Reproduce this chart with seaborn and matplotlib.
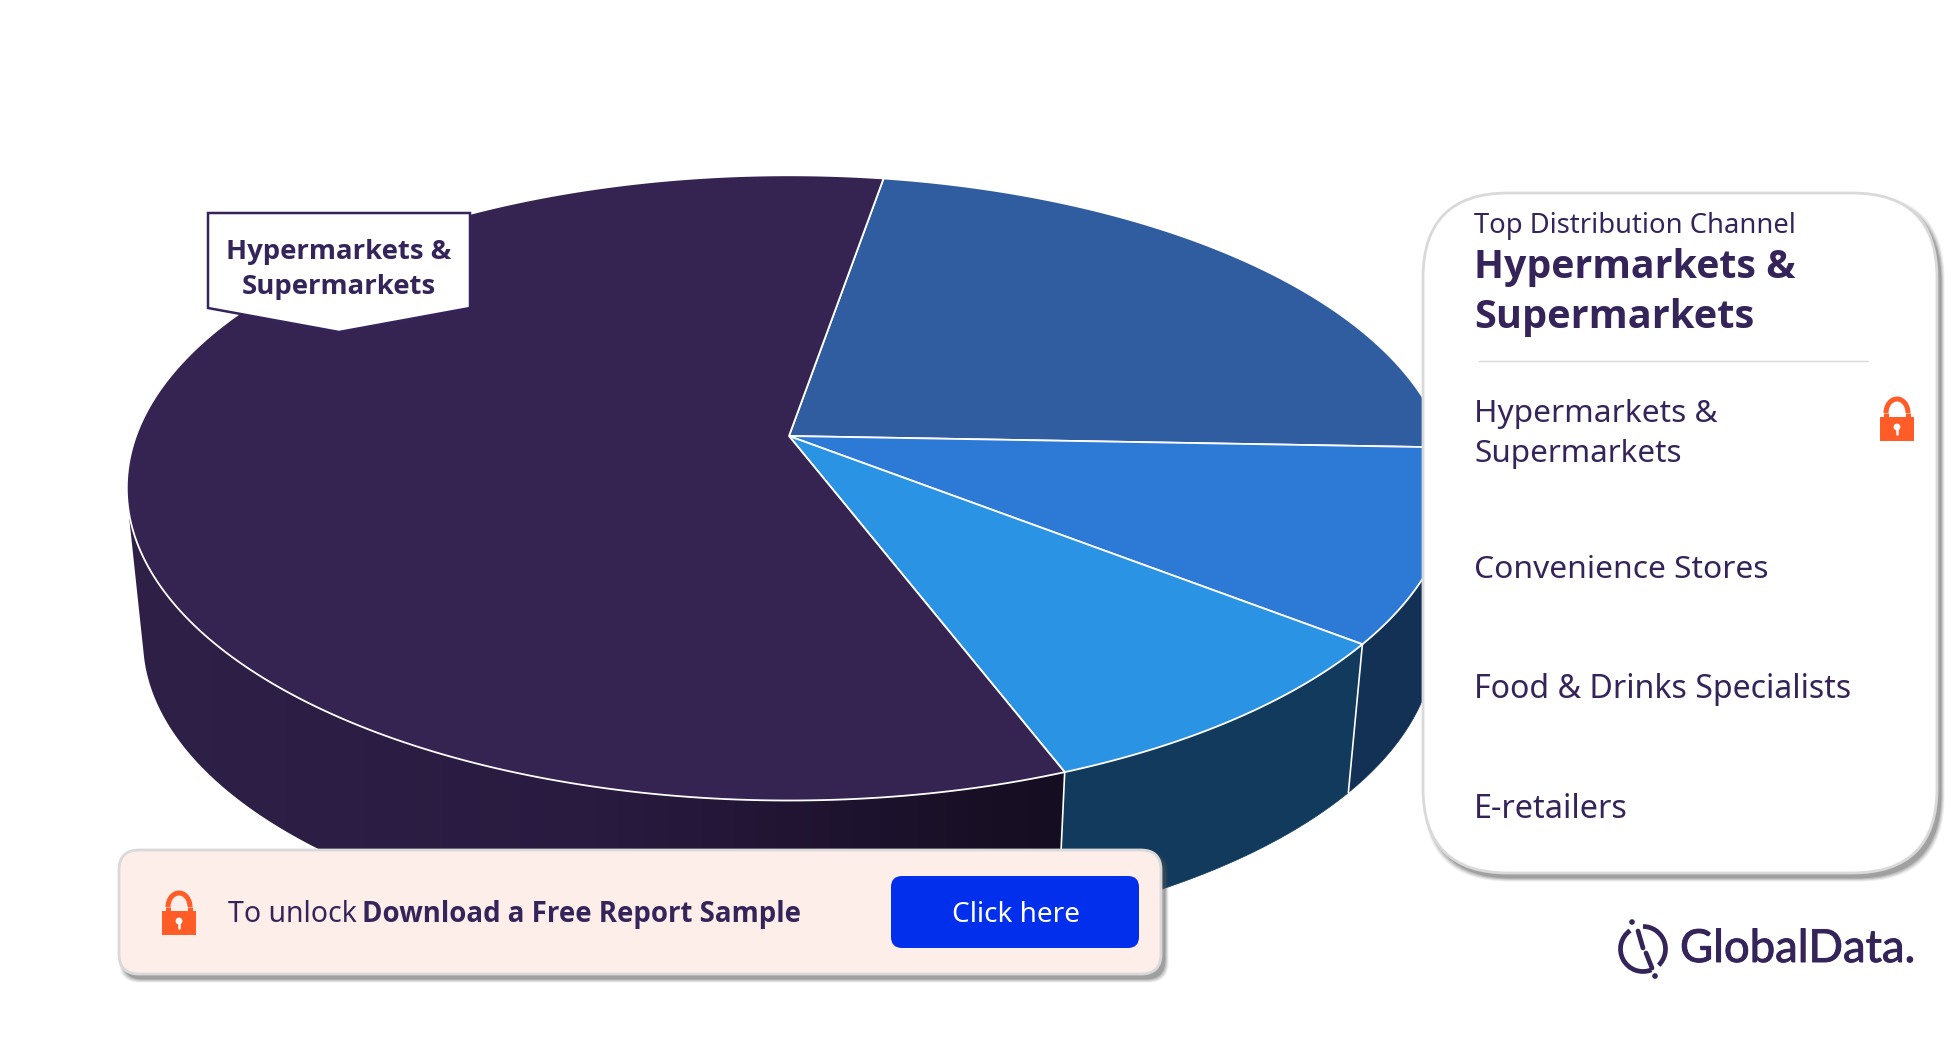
import numpy as np
import matplotlib
matplotlib.use("Agg")
import matplotlib.pyplot as plt
import matplotlib.font_manager as fm
import matplotlib.patheffects as pe
from matplotlib.patches import FancyBboxPatch, Polygon, Arc, Rectangle, Circle
import seaborn as sns

# ---- data ----
channels = ["Convenience Stores", "Food & Drinks Specialists", "E-retailers", "Hypermarkets & Supermarkets"]
shares = [22.9, 9.95, 8.65, 58.5]          # clockwise, starting at the upper boundary
top_colors = ["#2f5da0", "#2d7ad6", "#2b93e4", "#352352"]
wall_colors = ["#123155", "#123155", "#113a5c", None]
dark_wall_ramp = ["#2f2048", "#291a40", "#150d20"]
INK = "#35245a"
LOCK = "#ff5c28"
FONT = "Noto Sans"


def has_bold(name):
    return any(f.name == name and (f.weight == "bold" or f.weight == 700) for f in fm.fontManager.ttflist)


BOLD_FONT = next((n for n in ["Noto Sans", "Open Sans", "Roboto", "Inter", "Lato", "Liberation Sans"] if has_bold(n)),
                 "DejaVu Sans")

sns.set_theme(style="white")
plt.rcParams["font.family"] = [FONT, "DejaVu Sans"]

W, H = 1951, 1044
fig = plt.figure(figsize=(W / 100, H / 100), dpi=100, facecolor="white")
ax = fig.add_axes([0, 0, 1, 1])

# ---- perspective pie: projection of a unit disc ----
AX, AY = 789, 436      # apex
RX, RY, K = 653, 304, 0.166
VPY = 6700
SCALE = 0.9755
START = -80.3
WALL_FROM, WALL_TO = -9, 168


def rim(t_deg):
    t = np.radians(t_deg)
    w = 1 - K * np.sin(t)
    return AX + RX * np.cos(t) / w, AY + RY * np.sin(t) / w


def lower(x, y):
    return AX + (x - AX) * SCALE, VPY - (VPY - y) * SCALE


angles = START + np.concatenate([[0], np.cumsum(shares)]) * 3.6
wall_cmap = sns.blend_palette(dark_wall_ramp, as_cmap=True)

# walls
for i in range(len(shares)):
    a0, a1 = angles[i], angles[i + 1]
    lo, hi = max(a0, WALL_FROM), min(a1, WALL_TO)
    if hi <= lo:
        continue
    ts = np.linspace(lo, hi, 200)
    xs, ys = rim(ts)
    xl, yl = lower(xs, ys)
    pts = np.column_stack([np.r_[xs, xl[::-1]], np.r_[ys, yl[::-1]]])
    if wall_colors[i] is None:
        poly = Polygon(pts, closed=True, fc="none", ec="none", transform=ax.transData)
        ax.add_patch(poly)
        im = ax.imshow(np.linspace(0, 1, 256)[None, :], cmap=wall_cmap, aspect="auto",
                       extent=[127, 1066, 1000, 300], zorder=2, interpolation="bilinear")
        im.set_clip_path(poly)
    else:
        ax.add_patch(Polygon(pts, closed=True, fc=wall_colors[i], ec=wall_colors[i], lw=0.5, zorder=2))
    if WALL_FROM < a0 < WALL_TO:
        x0, y0 = rim(a0)
        x3, y3 = lower(x0, y0)
        ax.plot([x0, x3], [y0, y3], color="white", lw=1.2, zorder=3)

ax.set_xlim(0, W)
ax.set_ylim(H, 0)
ax.axis("off")

# top faces
for i in range(len(shares)):
    ts = np.linspace(angles[i], angles[i + 1], 240)
    xs, ys = rim(ts)
    pts = np.column_stack([np.r_[AX, xs], np.r_[AY, ys]])
    ax.add_patch(Polygon(pts, closed=True, fc=top_colors[i], ec="white", lw=1.3,
                         joinstyle="round", zorder=4))


def shadowed_box(x0, y0, x1, y1, r, fc, ec="#d9d9d9", z=10, dx=3, dy=4):
    for g, a in zip([7, 5, 3, 1], [0.10, 0.14, 0.20, 0.28]):
        ax.add_patch(FancyBboxPatch((x0 + dx + 1 - g / 2, y0 + dy + 1 - g / 2), x1 - x0 + g, y1 - y0 + g,
                                    boxstyle=f"round,pad=0,rounding_size={r}",
                                    fc="#555555", ec="none", alpha=a, zorder=z))
    ax.add_patch(FancyBboxPatch((x0, y0), x1 - x0, y1 - y0,
                                boxstyle=f"round,pad=0,rounding_size={r}",
                                fc=fc, ec=ec, lw=2, zorder=z + 1))


def label(x, y, s, width, bold=False, color=INK, ha="left", family=None, z=20, stroke=0):
    fam = family or (BOLD_FONT if bold else FONT)
    t = ax.text(x, y, s, ha=ha, va="baseline", fontsize=16, fontweight="bold" if bold else "normal",
                color=color, family=fam, zorder=z)
    r = fig.canvas.get_renderer()
    t.set_fontsize(16 * width / t.get_window_extent(r).width)
    if stroke:
        t.set_path_effects([pe.withStroke(linewidth=stroke, foreground=color)])
    return t


def lock(cx, cy, z=20):
    bw, bh = 34, 24
    top = cy - 1
    ax.add_patch(Rectangle((cx - bw / 2, top), bw, bh, fc=LOCK, ec="none", zorder=z))
    ax.add_patch(Arc((cx, top - 4), 22, 28, theta1=180, theta2=360, ec=LOCK, lw=3.6, zorder=z))
    ax.plot([cx - 11, cx - 11], [top - 4, top], color=LOCK, lw=3.6, zorder=z, solid_capstyle="butt")
    ax.plot([cx + 11, cx + 11], [top - 4, top], color=LOCK, lw=3.6, zorder=z, solid_capstyle="butt")
    ax.add_patch(Circle((cx, top + 10), 3.4, fc="white", ec="none", zorder=z + 1))
    ax.plot([cx, cx], [top + 10, top + 17], color="white", lw=1.8, zorder=z + 1)


# ---- callout ----
callout = [(208, 213), (470, 213), (470, 308), (339, 332), (208, 308)]
ax.add_patch(Polygon(callout, closed=True, fc="white", ec=INK, lw=1.8, zorder=6))
label(339, 259, "Hypermarkets &", 225, True, ha="center")
label(339, 294, "Supermarkets", 194, True, ha="center")

# ---- right panel ----
shadowed_box(1423, 193, 1937, 873, 85, "white")
label(1474, 233, "Top Distribution Channel", 321)
label(1474, 278, "Hypermarkets &", 321, True)
label(1474, 328, "Supermarkets", 281, True)
ax.plot([1479, 1868], [360.5, 360.5], color="#d8d8d8", lw=1, zorder=20)
label(1474, 422, "Hypermarkets &", 243)
label(1474, 462, "Supermarkets", 208)
for name, base, w in zip(channels[:3], [578.5, 698, 818], [294, 377, 154]):
    label(1474, base, name, w)
lock(1897, 418)

# ---- call to action ----
shadowed_box(119, 850, 1161, 974, 20, "#feeeea")
lock(179, 912)
label(228, 922, "To unlock", 129)
label(362, 922, "Download a Free Report Sample", 440, True)
ax.add_patch(FancyBboxPatch((891, 876), 248, 72, boxstyle="round,pad=0,rounding_size=11",
                            fc="#012fec", ec="none", zorder=15))
label(1016.5, 922, "Click here", 128, color="white", ha="center")

# ---- logo ----
ax.add_patch(Arc((1643, 949), 45, 45, theta1=68, theta2=235, ec=INK, lw=3.4, zorder=20))
ax.add_patch(Arc((1643, 949), 45, 45, theta1=270, theta2=406, ec=INK, lw=3.4, zorder=20))
ax.plot([1638, 1643], [931, 948], color=INK, lw=3.4, zorder=20, solid_capstyle="round")
ax.plot([1646, 1652], [953, 968], color=INK, lw=3.4, zorder=20, solid_capstyle="round")
ax.add_patch(Circle((1632, 922), 2.8, fc=INK, ec="none", zorder=20))
ax.add_patch(Circle((1655, 976), 2.8, fc=INK, ec="none", zorder=20))
label(1680, 962, "GlobalData.", 236, family="Lato", stroke=0.7)

sns.despine(ax=ax, left=True, bottom=True)
fig.savefig("out.png", dpi=100, facecolor="white")
